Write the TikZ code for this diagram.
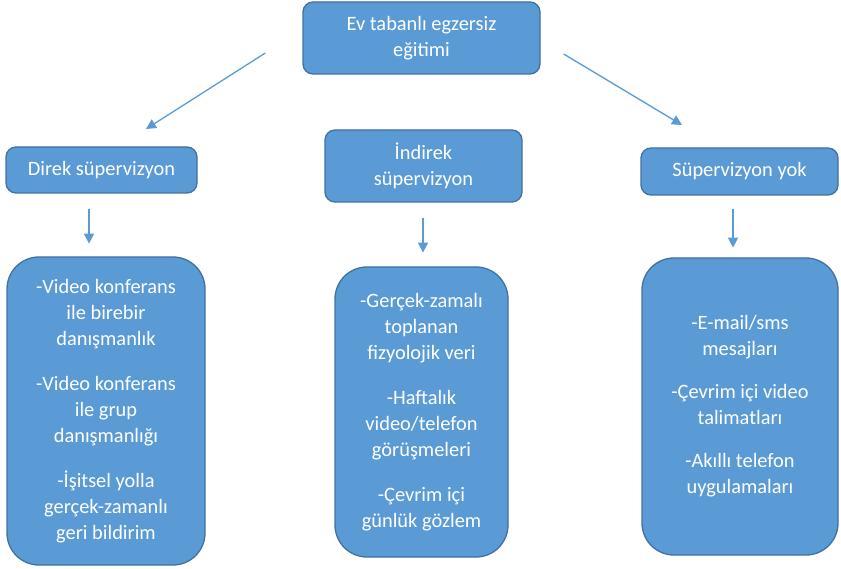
\documentclass[tikz,border=0pt]{standalone}
\usepackage{fontspec}
\setmainfont{Carlito}
\usepackage{xcolor}
\definecolor{boxblue}{HTML}{5B9BD5}
\definecolor{edgeblue}{HTML}{41719C}
\usetikzlibrary{arrows.meta,positioning,calc}
\tikzset{
  headbox/.style={draw=edgeblue,line width=1.3pt,fill=boxblue,rounded corners=10pt,align=center,text=white,font=\fontsize{20.4}{26}\selectfont,inner sep=0pt},
  listbox/.style={headbox,rounded corners=32pt},
  flowarrow/.style={-{Triangle[length=10pt,width=10pt]},boxblue,line width=1.3pt}
}

\begin{document}
\begin{tikzpicture}[x=1pt,y=-1pt]
\useasboundingbox (0,0) rectangle (841,569);
\node[headbox,minimum width=237pt,minimum height=72pt] (root) at (421.5,38) {Ev tabanlı egzersiz\\eğitimi};
\node[headbox,minimum width=191pt,minimum height=46pt] (direk) at (101.5,170) {Direk süpervizyon};
\node[headbox,minimum width=197pt,minimum height=72pt] (indirek) at (423.5,166) {İndirek\\süpervizyon};
\node[headbox,minimum width=197pt,minimum height=47pt] (yok) at (739.5,171.5) {Süpervizyon yok};
\node[listbox,minimum width=198pt,minimum height=308pt] (list1) at (106,411) {-Video konferans\\ile birebir\\danışmanlık\\[19pt]-Video konferans\\ile grup\\danışmanlığı\\[19pt]-İşitsel yolla\\gerçek-zamanlı\\geri bildirim};
\node[listbox,minimum width=173pt,minimum height=290pt] (list2) at (421.5,412) {-Gerçek-zamalı\\toplanan\\fizyolojik veri\\[19pt]-Haftalık\\video/telefon\\görüşmeleri\\[19pt]-Çevrim içi\\günlük gözlem};
\node[listbox,minimum width=196pt,minimum height=297pt] (list3) at (740,406.5) {-E-mail/sms\\mesajları\\[17pt]-Çevrim içi video\\talimatları\\[17pt]-Akıllı telefon\\uygulamaları};
% free-standing arrows
\coordinate (rootL) at ($(root.west)+(-37,15)$);
\coordinate (direkT) at (146,129);
\coordinate (rootR) at ($(root.east)+(23,16)$);
\coordinate (yokT) at (682,125);
\draw[flowarrow] (rootL) -- (direkT);
\draw[flowarrow] (rootR) -- (yokT);
\draw[flowarrow] ($(direk.south)+(-12.5,15)$) -- ($(direk.south)+(-12.5,50)$);
\draw[flowarrow] ($(indirek.south)+(-0.5,15)$) -- ($(indirek.south)+(-0.5,50)$);
\draw[flowarrow] ($(yok.south)+(-6.5,13)$) -- ($(yok.south)+(-6.5,52)$);
\end{tikzpicture}
\end{document}
